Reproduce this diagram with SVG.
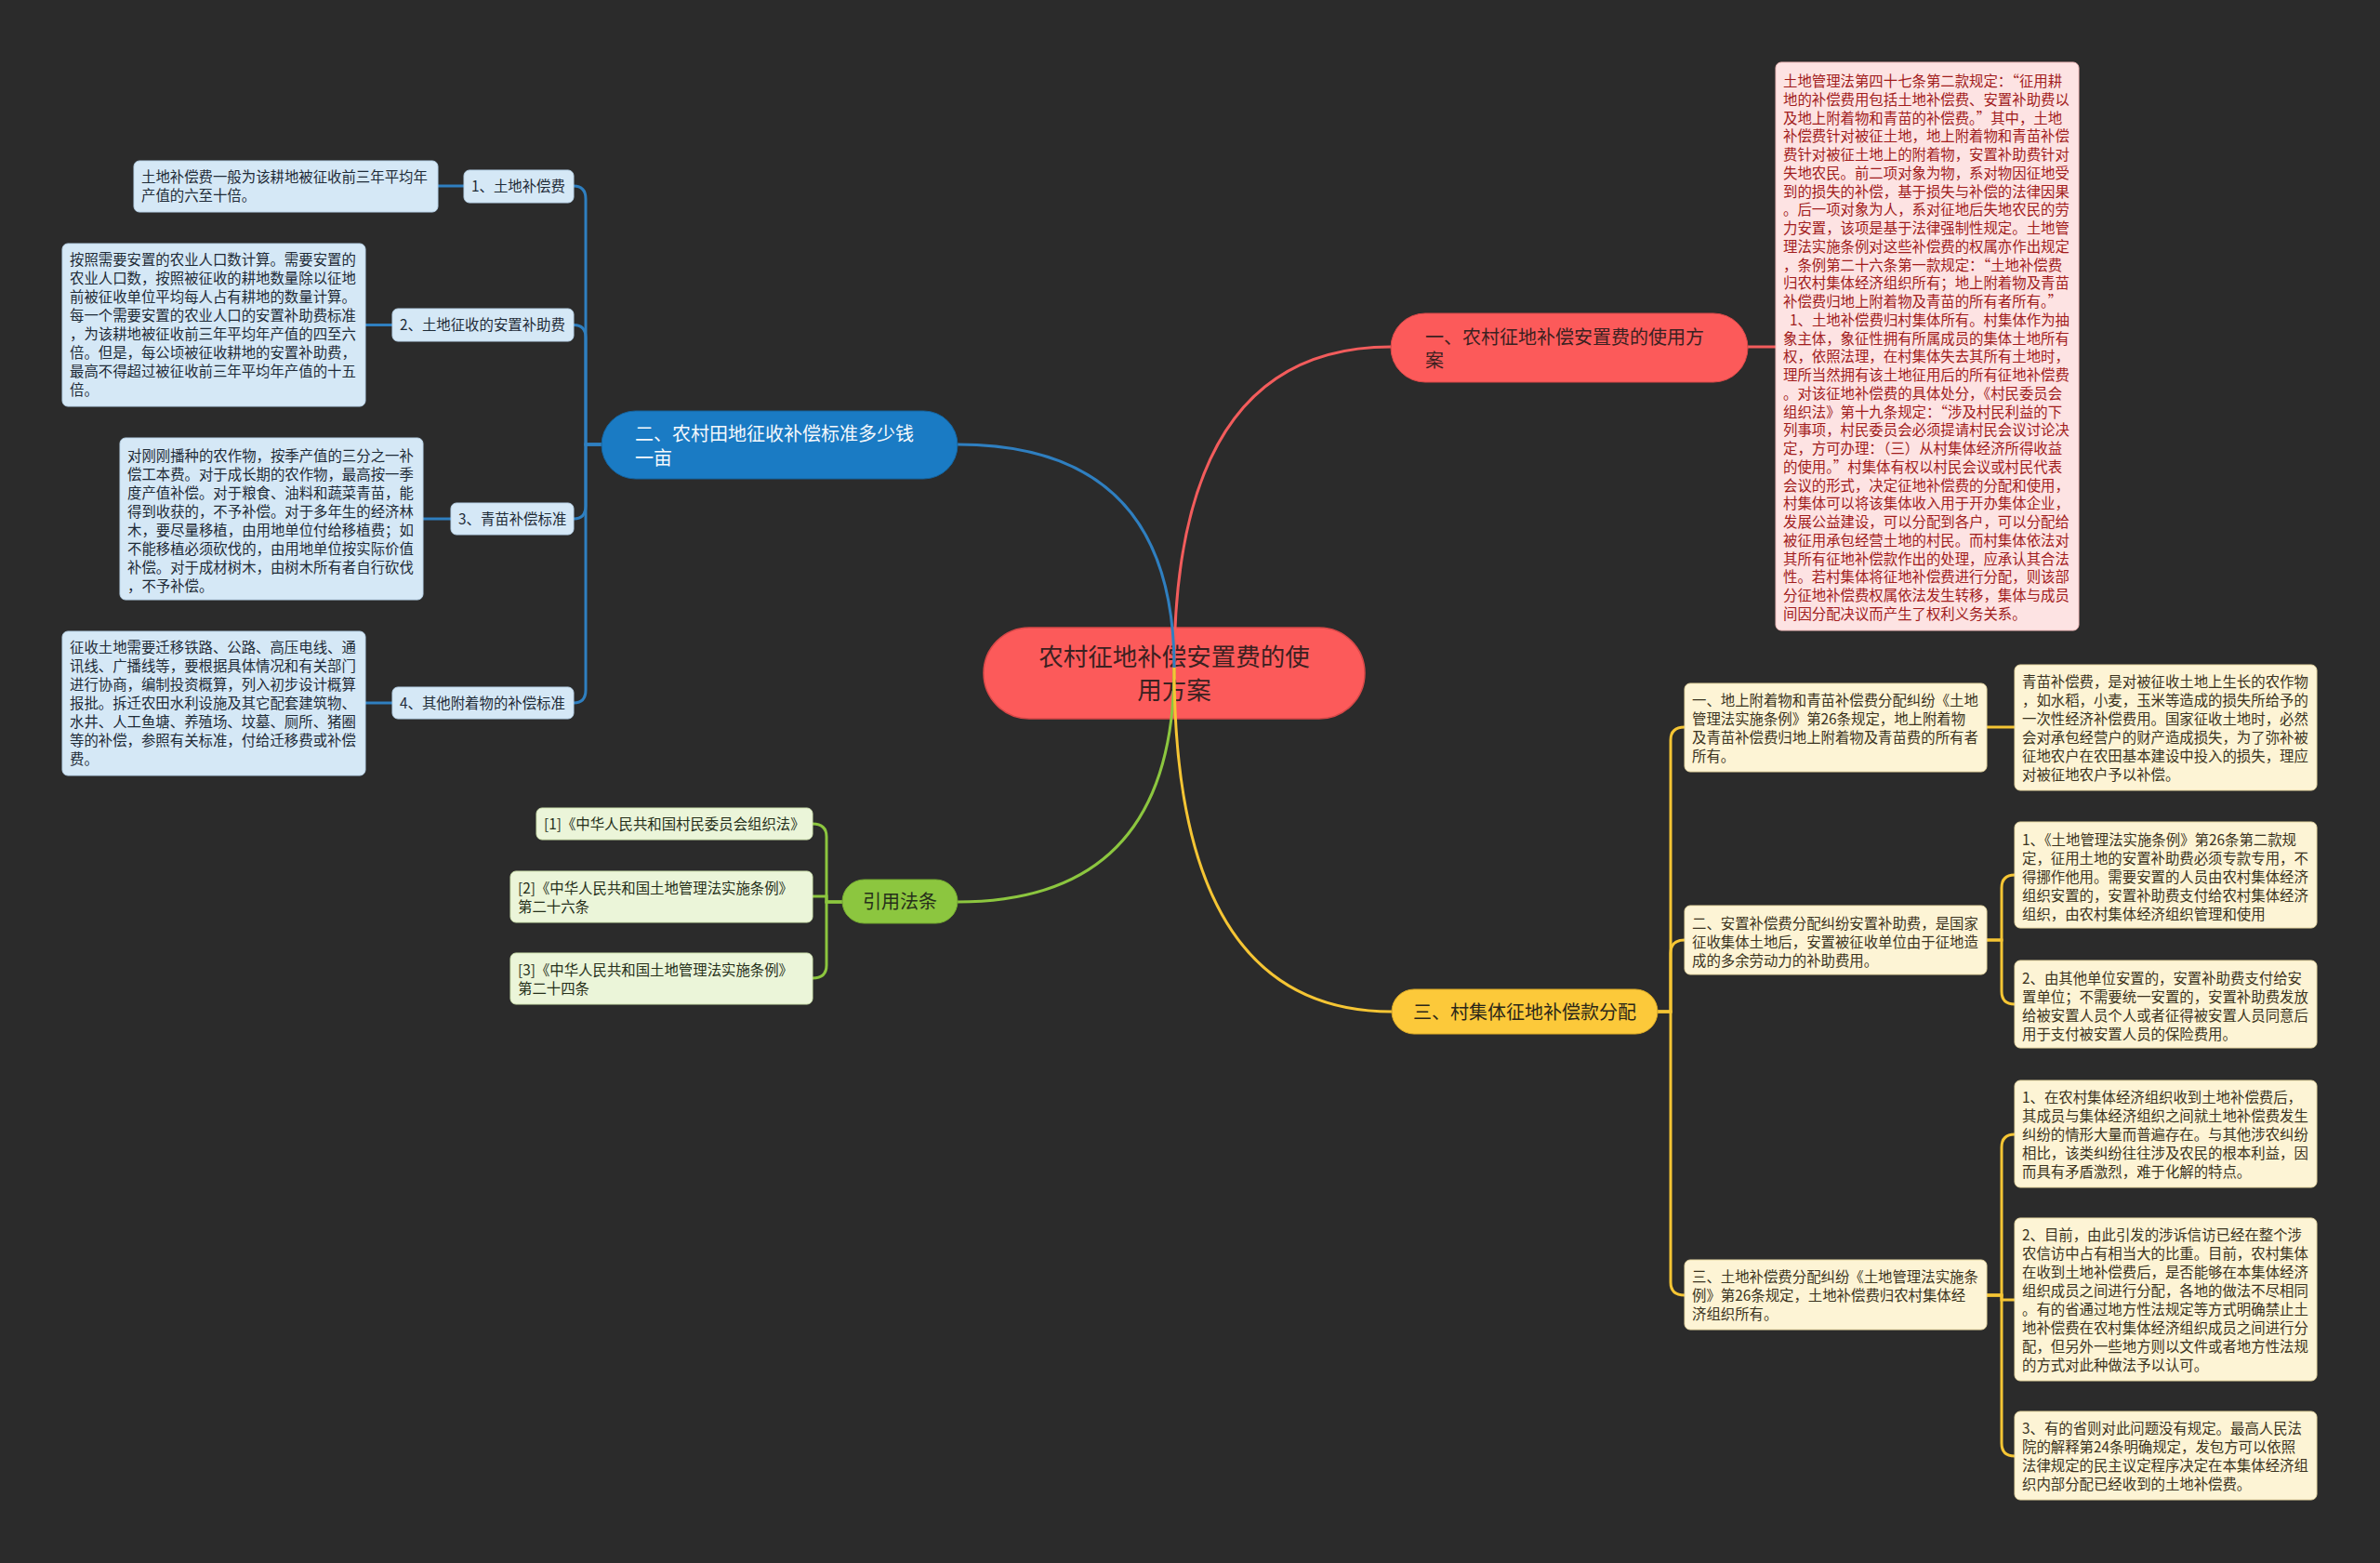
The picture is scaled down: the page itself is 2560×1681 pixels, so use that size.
<svg xmlns="http://www.w3.org/2000/svg" width="2560" height="1681" viewBox="0 0 2560 1681">
<style>
text{font-family:"Noto Sans CJK SC","Noto Sans",sans-serif;}
.s{font-size:15.4px;}
.b{font-size:20px;}
.blueBox{fill:#d5e8f6;stroke:#b9d3e8;stroke-width:1;}
.blueTxt{fill:#1e2b37;}
.greenBox{fill:#ebf5d9;stroke:#cfe3b0;stroke-width:1;}
.greenTxt{fill:#26301a;}
.yelBox{fill:#fdf4d5;stroke:#e8d9a4;stroke-width:1;}
.yelTxt{fill:#3b3320;}
.redBox{fill:#fde3e3;stroke:#f2bcbc;stroke-width:1;}
.redTxt{fill:#a11c1c;}
.cb{fill:none;stroke:#2f7fc0;stroke-width:3;}
.cr{fill:none;stroke:#f25c5c;stroke-width:3;}
.cg{fill:none;stroke:#8cc63f;stroke-width:3;}
.cy{fill:none;stroke:#f5c534;stroke-width:3;}
</style>
<rect x="0" y="0" width="2560" height="1681" fill="#2b2b2b"/>

<g id="center">
<rect x="1058" y="675" width="410" height="98" rx="49" fill="#fc5a5a" stroke="#d84848" stroke-width="1.5"/>
<text x="1263" y="716" font-size="26.5" fill="#3b2121" text-anchor="middle">农村征地补偿安置费的使</text>
<text x="1263" y="752" font-size="26.5" fill="#3b2121" text-anchor="middle">用方案</text>
</g>

<g id="connectors">
<path class="cr" d="M1263 718 Q1263 373 1496 373"/>
<path class="cb" d="M1263 718 Q1263 478 1030 478"/>
<path class="cg" d="M1263 718 Q1263 970 1030 970"/>
<path class="cy" d="M1263 718 Q1263 1088 1497 1088"/>
<path class="cr" d="M1880 373 L1910 373"/>
<path class="cb" d="M648 478 L630 478 L630 214 Q630 200 617 200"/>
<path class="cb" d="M648 478 L630 478 L630 363 Q630 349.5 617 349.5"/>
<path class="cb" d="M648 478 L630 478 L630 544 Q630 558 617 558"/>
<path class="cb" d="M648 478 L630 478 L630 742 Q630 756 617 756"/>
<path class="cb" d="M471 200 L499 200"/>
<path class="cb" d="M393 349.5 L422 349.5"/>
<path class="cb" d="M455 558 L485 558"/>
<path class="cb" d="M393 756 L422 756"/>
<path class="cg" d="M906 970 L889 970 L889 900 Q889 886 874 886"/>
<path class="cg" d="M906 970 L889 970 L889 964 L874 964"/>
<path class="cg" d="M906 970 L889 970 L889 1038 Q889 1052 874 1052"/>
<path class="cy" d="M1783 1088 L1797 1088 L1797 796 Q1797 782 1812 782"/>
<path class="cy" d="M1783 1088 L1797 1088 L1797 1025 Q1797 1011 1812 1011"/>
<path class="cy" d="M1783 1088 L1797 1088 L1797 1379 Q1797 1393 1812 1393"/>
<path class="cy" d="M2137 782 L2167 782"/>
<path class="cy" d="M2137 1011 L2153 1011 L2153 955 Q2153 941 2167 941"/>
<path class="cy" d="M2137 1011 L2153 1011 L2153 1066 Q2153 1080 2167 1080"/>
<path class="cy" d="M2137 1393 L2153 1393 L2153 1234 Q2153 1220 2167 1220"/>
<path class="cy" d="M2137 1393 L2153 1393 L2153 1398 L2167 1398"/>
<path class="cy" d="M2137 1393 L2153 1393 L2153 1552 Q2153 1566 2167 1566"/>
</g>

<g id="branch-red">
<rect x="1496" y="337" width="384" height="74" rx="37" fill="#fc5a5a" stroke="#d84848" stroke-width="1"/>
<text class="b" x="1533" y="370" fill="#3b2121">一、农村征地补偿安置费的使用方</text>
<text class="b" x="1533" y="395" fill="#3b2121">案</text>
</g>

<g id="red-text">
<rect class="redBox" x="1910" y="67" width="326" height="611" rx="6"/>
<text class="s redTxt" x="1918" y="93">
<tspan x="1918" dy="0">土地管理法第四十七条第二款规定：“征用耕</tspan>
<tspan x="1918" dy="19.75">地的补偿费用包括土地补偿费、安置补助费以</tspan>
<tspan x="1918" dy="19.75">及地上附着物和青苗的补偿费。”其中，土地</tspan>
<tspan x="1918" dy="19.75">补偿费针对被征土地，地上附着物和青苗补偿</tspan>
<tspan x="1918" dy="19.75">费针对被征土地上的附着物，安置补助费针对</tspan>
<tspan x="1918" dy="19.75">失地农民。前二项对象为物，系对物因征地受</tspan>
<tspan x="1918" dy="19.75">到的损失的补偿，基于损失与补偿的法律因果</tspan>
<tspan x="1918" dy="19.75">。后一项对象为人，系对征地后失地农民的劳</tspan>
<tspan x="1918" dy="19.75">力安置，该项是基于法律强制性规定。土地管</tspan>
<tspan x="1918" dy="19.75">理法实施条例对这些补偿费的权属亦作出规定</tspan>
<tspan x="1918" dy="19.75">，条例第二十六条第一款规定：“土地补偿费</tspan>
<tspan x="1918" dy="19.75">归农村集体经济组织所有；地上附着物及青苗</tspan>
<tspan x="1918" dy="19.75">补偿费归地上附着物及青苗的所有者所有。”</tspan>
<tspan x="1925" dy="19.75">1、土地补偿费归村集体所有。村集体作为抽</tspan>
<tspan x="1918" dy="19.75">象主体，象征性拥有所属成员的集体土地所有</tspan>
<tspan x="1918" dy="19.75">权，依照法理，在村集体失去其所有土地时，</tspan>
<tspan x="1918" dy="19.75">理所当然拥有该土地征用后的所有征地补偿费</tspan>
<tspan x="1918" dy="19.75">。对该征地补偿费的具体处分，《村民委员会</tspan>
<tspan x="1918" dy="19.75">组织法》第十九条规定：“涉及村民利益的下</tspan>
<tspan x="1918" dy="19.75">列事项，村民委员会必须提请村民会议讨论决</tspan>
<tspan x="1918" dy="19.75">定，方可办理：（三）从村集体经济所得收益</tspan>
<tspan x="1918" dy="19.75">的使用。”村集体有权以村民会议或村民代表</tspan>
<tspan x="1918" dy="19.75">会议的形式，决定征地补偿费的分配和使用，</tspan>
<tspan x="1918" dy="19.75">村集体可以将该集体收入用于开办集体企业，</tspan>
<tspan x="1918" dy="19.75">发展公益建设，可以分配到各户，可以分配给</tspan>
<tspan x="1918" dy="19.75">被征用承包经营土地的村民。而村集体依法对</tspan>
<tspan x="1918" dy="19.75">其所有征地补偿款作出的处理，应承认其合法</tspan>
<tspan x="1918" dy="19.75">性。若村集体将征地补偿费进行分配，则该部</tspan>
<tspan x="1918" dy="19.75">分征地补偿费权属依法发生转移，集体与成员</tspan>
<tspan x="1918" dy="19.75">间因分配决议而产生了权利义务关系。</tspan>
</text>
</g>

<g id="branch-blue">
<rect x="647" y="442" width="383" height="73" rx="36.5" fill="#1a7bc4" stroke="#15649f" stroke-width="1"/>
<text class="b" x="683" y="474" fill="#f4f8fc">二、农村田地征收补偿标准多少钱</text>
<text class="b" x="683" y="500" fill="#f4f8fc">一亩</text>
</g>

<g id="node-b1">
<rect class="blueBox" x="499" y="183" width="118" height="35" rx="6"/>
<text class="s blueTxt" x="507" y="206">1、土地补偿费</text>
</g>
<g id="node-b1-detail">
<rect class="blueBox" x="144" y="173" width="327" height="55" rx="6"/>
<text class="s blueTxt"><tspan x="152" y="196">土地补偿费一般为该耕地被征收前三年平均年</tspan><tspan x="152" dy="20">产值的六至十倍。</tspan></text>
</g>
<g id="node-b2">
<rect class="blueBox" x="422" y="332" width="195" height="35" rx="6"/>
<text class="s blueTxt" x="430" y="355">2、土地征收的安置补助费</text>
</g>
<g id="node-b2-detail">
<rect class="blueBox" x="67" y="262" width="326" height="175" rx="6"/>
<text class="s blueTxt"><tspan x="75" y="285">按照需要安置的农业人口数计算。需要安置的</tspan><tspan x="75" dy="20">农业人口数，按照被征收的耕地数量除以征地</tspan><tspan x="75" dy="20">前被征收单位平均每人占有耕地的数量计算。</tspan><tspan x="75" dy="20">每一个需要安置的农业人口的安置补助费标准</tspan><tspan x="75" dy="20">，为该耕地被征收前三年平均年产值的四至六</tspan><tspan x="75" dy="20">倍。但是，每公顷被征收耕地的安置补助费，</tspan><tspan x="75" dy="20">最高不得超过被征收前三年平均年产值的十五</tspan><tspan x="75" dy="20">倍。</tspan></text>
</g>
<g id="node-b3">
<rect class="blueBox" x="485" y="541" width="132" height="34" rx="6"/>
<text class="s blueTxt" x="493" y="563.5">3、青苗补偿标准</text>
</g>
<g id="node-b3-detail">
<rect class="blueBox" x="129" y="471" width="326" height="174" rx="6"/>
<text class="s blueTxt"><tspan x="137" y="496">对刚刚播种的农作物，按季产值的三分之一补</tspan><tspan x="137" dy="20">偿工本费。对于成长期的农作物，最高按一季</tspan><tspan x="137" dy="20">度产值补偿。对于粮食、油料和蔬菜青苗，能</tspan><tspan x="137" dy="20">得到收获的，不予补偿。对于多年生的经济林</tspan><tspan x="137" dy="20">木，要尽量移植，由用地单位付给移植费；如</tspan><tspan x="137" dy="20">不能移植必须砍伐的，由用地单位按实际价值</tspan><tspan x="137" dy="20">补偿。对于成材树木，由树木所有者自行砍伐</tspan><tspan x="137" dy="20">，不予补偿。</tspan></text>
</g>
<g id="node-b4">
<rect class="blueBox" x="422" y="739" width="195" height="34" rx="6"/>
<text class="s blueTxt" x="430" y="761.5">4、其他附着物的补偿标准</text>
</g>
<g id="node-b4-detail">
<rect class="blueBox" x="67" y="679" width="326" height="155" rx="6"/>
<text class="s blueTxt"><tspan x="75" y="702">征收土地需要迁移铁路、公路、高压电线、通</tspan><tspan x="75" dy="20">讯线、广播线等，要根据具体情况和有关部门</tspan><tspan x="75" dy="20">进行协商，编制投资概算，列入初步设计概算</tspan><tspan x="75" dy="20">报批。拆迁农田水利设施及其它配套建筑物、</tspan><tspan x="75" dy="20">水井、人工鱼塘、养殖场、坟墓、厕所、猪圈</tspan><tspan x="75" dy="20">等的补偿，参照有关标准，付给迁移费或补偿</tspan><tspan x="75" dy="20">费。</tspan></text>
</g>

<g id="branch-green">
<rect x="906" y="946" width="124" height="47" rx="23.5" fill="#8cc63f" stroke="#73a831" stroke-width="1"/>
<text class="b" x="968" y="977" fill="#26301a" text-anchor="middle">引用法条</text>
</g>
<g id="cite-1">
<rect class="greenBox" x="577" y="869" width="297" height="34" rx="6"/>
<text class="s greenTxt" x="585" y="891.5">[1]《中华人民共和国村民委员会组织法》</text>
</g>
<g id="cite-2">
<rect class="greenBox" x="549" y="937" width="325" height="55" rx="6"/>
<text class="s greenTxt"><tspan x="557" y="961">[2]《中华人民共和国土地管理法实施条例》</tspan><tspan x="557" dy="20">第二十六条</tspan></text>
</g>
<g id="cite-3">
<rect class="greenBox" x="549" y="1025" width="325" height="55" rx="6"/>
<text class="s greenTxt"><tspan x="557" y="1049">[3]《中华人民共和国土地管理法实施条例》</tspan><tspan x="557" dy="20">第二十四条</tspan></text>
</g>

<g id="branch-yellow">
<rect x="1497" y="1064" width="286" height="48" rx="24" fill="#fcc93a" stroke="#d9a826" stroke-width="1"/>
<text class="b" x="1520" y="1096" fill="#2b2718">三、村集体征地补偿款分配</text>
</g>
<g id="y1">
<rect class="yelBox" x="1812" y="735" width="325" height="95" rx="6"/>
<text class="s yelTxt"><tspan x="1820" y="759">一、地上附着物和青苗补偿费分配纠纷《土地</tspan><tspan x="1820" dy="20">管理法实施条例》第26条规定，地上附着物</tspan><tspan x="1820" dy="20">及青苗补偿费归地上附着物及青苗费的所有者</tspan><tspan x="1820" dy="20">所有。</tspan></text>
</g>
<g id="y1a">
<rect class="yelBox" x="2167" y="715" width="325" height="135" rx="6"/>
<text class="s yelTxt"><tspan x="2175" y="739">青苗补偿费，是对被征收土地上生长的农作物</tspan><tspan x="2175" dy="20">，如水稻，小麦，玉米等造成的损失所给予的</tspan><tspan x="2175" dy="20">一次性经济补偿费用。国家征收土地时，必然</tspan><tspan x="2175" dy="20">会对承包经营户的财产造成损失，为了弥补被</tspan><tspan x="2175" dy="20">征地农户在农田基本建设中投入的损失，理应</tspan><tspan x="2175" dy="20">对被征地农户予以补偿。</tspan></text>
</g>
<g id="y2">
<rect class="yelBox" x="1812" y="974" width="325" height="74" rx="6"/>
<text class="s yelTxt"><tspan x="1820" y="999">二、安置补偿费分配纠纷安置补助费，是国家</tspan><tspan x="1820" dy="20">征收集体土地后，安置被征收单位由于征地造</tspan><tspan x="1820" dy="20">成的多余劳动力的补助费用。</tspan></text>
</g>
<g id="y2a">
<rect class="yelBox" x="2167" y="884" width="325" height="114" rx="6"/>
<text class="s yelTxt"><tspan x="2175" y="909">1、《土地管理法实施条例》第26条第二款规</tspan><tspan x="2175" dy="20">定，征用土地的安置补助费必须专款专用，不</tspan><tspan x="2175" dy="20">得挪作他用。需要安置的人员由农村集体经济</tspan><tspan x="2175" dy="20">组织安置的，安置补助费支付给农村集体经济</tspan><tspan x="2175" dy="20">组织，由农村集体经济组织管理和使用</tspan></text>
</g>
<g id="y2b">
<rect class="yelBox" x="2167" y="1033" width="325" height="94" rx="6"/>
<text class="s yelTxt"><tspan x="2175" y="1058">2、由其他单位安置的，安置补助费支付给安</tspan><tspan x="2175" dy="20">置单位；不需要统一安置的，安置补助费发放</tspan><tspan x="2175" dy="20">给被安置人员个人或者征得被安置人员同意后</tspan><tspan x="2175" dy="20">用于支付被安置人员的保险费用。</tspan></text>
</g>
<g id="y3">
<rect class="yelBox" x="1812" y="1355" width="325" height="75" rx="6"/>
<text class="s yelTxt"><tspan x="1820" y="1379">三、土地补偿费分配纠纷《土地管理法实施条</tspan><tspan x="1820" dy="20">例》第26条规定，土地补偿费归农村集体经</tspan><tspan x="1820" dy="20">济组织所有。</tspan></text>
</g>
<g id="y3a">
<rect class="yelBox" x="2167" y="1162" width="325" height="115" rx="6"/>
<text class="s yelTxt"><tspan x="2175" y="1186">1、在农村集体经济组织收到土地补偿费后，</tspan><tspan x="2175" dy="20">其成员与集体经济组织之间就土地补偿费发生</tspan><tspan x="2175" dy="20">纠纷的情形大量而普遍存在。与其他涉农纠纷</tspan><tspan x="2175" dy="20">相比，该类纠纷往往涉及农民的根本利益，因</tspan><tspan x="2175" dy="20">而具有矛盾激烈，难于化解的特点。</tspan></text>
</g>
<g id="y3b">
<rect class="yelBox" x="2167" y="1310" width="325" height="175" rx="6"/>
<text class="s yelTxt"><tspan x="2175" y="1334">2、目前，由此引发的涉诉信访已经在整个涉</tspan><tspan x="2175" dy="20">农信访中占有相当大的比重。目前，农村集体</tspan><tspan x="2175" dy="20">在收到土地补偿费后，是否能够在本集体经济</tspan><tspan x="2175" dy="20">组织成员之间进行分配，各地的做法不尽相同</tspan><tspan x="2175" dy="20">。有的省通过地方性法规定等方式明确禁止土</tspan><tspan x="2175" dy="20">地补偿费在农村集体经济组织成员之间进行分</tspan><tspan x="2175" dy="20">配，但另外一些地方则以文件或者地方性法规</tspan><tspan x="2175" dy="20">的方式对此种做法予以认可。</tspan></text>
</g>
<g id="y3c">
<rect class="yelBox" x="2167" y="1518" width="325" height="95" rx="6"/>
<text class="s yelTxt"><tspan x="2175" y="1542">3、有的省则对此问题没有规定。最高人民法</tspan><tspan x="2175" dy="20">院的解释第24条明确规定，发包方可以依照</tspan><tspan x="2175" dy="20">法律规定的民主议定程序决定在本集体经济组</tspan><tspan x="2175" dy="20">织内部分配已经收到的土地补偿费。</tspan></text>
</g>
</svg>
